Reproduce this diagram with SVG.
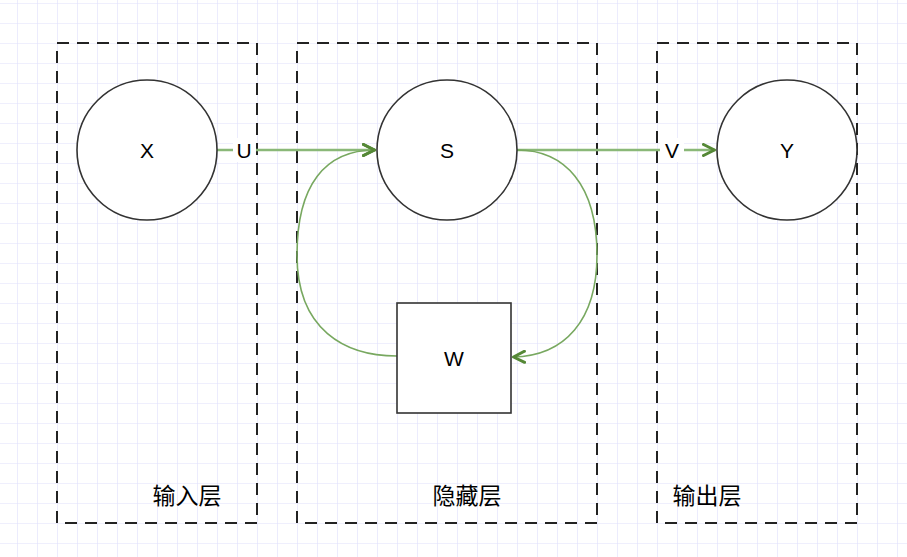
<svg xmlns="http://www.w3.org/2000/svg" width="907" height="557" viewBox="0 0 907 557">
<defs>
<pattern id="grid" x="17" y="3" width="20" height="20" patternUnits="userSpaceOnUse">
<path d="M0 0H20M0 0V20" fill="none" stroke="#e0e0fc" stroke-width="1.2"/>
</pattern>
<marker id="arr" viewBox="0 0 14 14" refX="13" refY="7" markerWidth="14" markerHeight="14" markerUnits="userSpaceOnUse" orient="auto">
<path d="M1.5 1.5L12.5 7L1.5 12.5" fill="none" stroke="#558836" stroke-width="3" stroke-linejoin="round" stroke-linecap="round"/>
</marker>
</defs>
<style>
.box{fill:none;stroke:#222;stroke-width:2;stroke-dasharray:12 8}
.node{fill:#fff;stroke:#333;stroke-width:1.6}
.lbl{font-family:"Liberation Sans",Arial,sans-serif;font-size:21px;fill:#000;text-anchor:middle;dominant-baseline:central}
.cap{font-family:"Liberation Sans","Noto Sans CJK SC",sans-serif;font-size:23px;fill:#000;text-anchor:middle;dominant-baseline:central}
.edge{fill:none;stroke:#78a860;stroke-width:1.6}
.edge2{fill:none;stroke:#8ab878;stroke-width:2.4}
</style>
<rect width="907" height="557" fill="#fff"/>
<rect width="907" height="557" fill="url(#grid)"/>
<g id="layers">
<g id="input-layer"><rect class="box" x="57" y="43" width="200" height="480"/><text class="cap" x="187" y="496">输入层</text></g>
<g id="hidden-layer"><rect class="box" x="297" y="43" width="300" height="480"/><text class="cap" x="467" y="496">隐藏层</text></g>
<g id="output-layer"><rect class="box" x="657" y="43" width="200" height="480"/><text class="cap" x="707" y="496">输出层</text></g>
</g>
<g id="connectors">
<path class="edge2" d="M217 150H375" marker-end="url(#arr)"/>
<path class="edge2" d="M517 150H715" marker-end="url(#arr)"/>
<path class="edge" d="M517 150C565 150 597 185 597 255C597 320 565 356 513 357" marker-end="url(#arr)"/>
<path class="edge" d="M397 356C345 356 297 330 297 255C297 185 325 150 375 150" marker-end="url(#arr)"/>
<rect x="233" y="138" width="23" height="24" fill="#fff"/>
<text class="lbl" x="244" y="150">U</text>
<rect x="660" y="138" width="24" height="24" fill="#fff"/>
<text class="lbl" x="672" y="150">V</text>
</g>
<g id="node-X"><circle class="node" cx="147" cy="150" r="70"/><text class="lbl" x="147" y="150">X</text></g>
<g id="node-S"><circle class="node" cx="447" cy="150" r="70"/><text class="lbl" x="447" y="150">S</text></g>
<g id="node-Y"><circle class="node" cx="787" cy="150" r="70"/><text class="lbl" x="787" y="150">Y</text></g>
<g id="node-W"><rect class="node" x="397" y="303" width="114" height="110"/><text class="lbl" x="454" y="358">W</text></g>
</svg>
